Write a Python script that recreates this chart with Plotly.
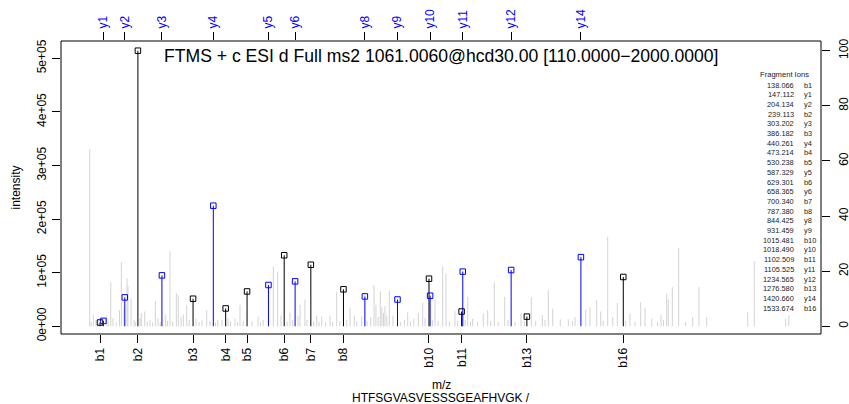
import plotly.graph_objects as go

# ---------------- data ----------------
b_labels = ["b1", "b2", "b3", "b4", "b5", "b6", "b7", "b8", "b10", "b11", "b13", "b16"]
b_mz = [138.066, 239.113, 386.182, 473.214, 530.238, 629.301, 700.340, 787.380,
        1015.481, 1102.509, 1276.580, 1533.674]
b_int = [7000, 514200, 51400, 33300, 65000, 132500, 114800, 69000,
         88800, 27500, 18000, 92000]

y_labels = ["y1", "y2", "y3", "y4", "y5", "y6", "y8", "y9", "y10", "y11", "y12", "y14"]
y_mz = [147.112, 204.134, 303.202, 440.261, 587.329, 658.365, 844.425, 931.459,
        1018.490, 1105.525, 1234.565, 1420.660]
y_int = [10000, 53900, 95000, 225000, 77000, 83800, 55700, 50000,
         57000, 102000, 105000, 129000]

gray_mz = [110.6, 114, 120.2, 127.4, 133, 156, 160, 166.6, 172.7, 181, 190, 194.9, 202, 210.1,
           212.5, 220.7, 228.7, 233, 244.7, 248.2, 257.3, 264, 271.4, 278, 285.6, 292.7, 299,
           313.3, 318, 324.7, 332, 341.6, 346.9, 354.1, 360.2, 369.3, 376, 394.1, 402, 410,
           422.6, 431.4, 446, 452, 463.4, 479.4, 486, 498, 505, 511.4, 520, 543.5, 559.5, 566,
           573, 600.3, 612, 620.8, 637, 644.8, 652, 666.1, 671.5, 684.5, 690, 708, 716, 722,
           729.3, 740, 751.5, 758, 769.3, 778, 796, 804.8, 816.3, 823, 836, 850, 860, 868.8,
           874, 880, 885.6, 890, 894, 898, 903, 909.6, 919.5, 940, 950, 958.7, 966, 975, 987,
           998.7, 1004.8, 1025, 1031.5, 1040, 1052, 1060.9, 1070, 1084.8, 1092, 1112, 1118.7,
           1126, 1132, 1145, 1160.3, 1172, 1180, 1189.7, 1200, 1217.4, 1226, 1245, 1260.9,
           1270, 1288.4, 1300, 1317.8, 1325, 1333.7, 1345.5, 1365.7, 1387, 1398, 1405, 1433.4,
           1444.9, 1462.8, 1473.5, 1480, 1492.1, 1505.5, 1517.8, 1540, 1551.6, 1565, 1580.1,
           1591.6, 1609.4, 1625, 1634.3, 1641, 1649.4, 1653.7, 1664.4, 1681.4, 1700, 1718.8,
           1735.6, 1756.1, 1865.4, 1883, 1966.8, 1975]
gray_int = [331000, 8000, 22000, 12000, 6000, 20000, 9000, 82000, 15000, 7000, 30000, 120000, 35000, 89000,
            75000, 52000, 12000, 8000, 15000, 25000, 28000, 9000, 12000, 7000, 47000, 15000, 8000,
            22000, 10000, 140000, 9000, 62000, 58000, 18000, 22000, 39000, 12000, 14000, 8000, 11000,
            30000, 10000, 7000, 12000, 12000, 15000, 9000, 14000, 8000, 40000, 10000, 10000, 18000, 8000,
            12000, 111000, 102000, 20000, 9000, 25000, 12000, 20000, 40000, 50000, 12000, 9000, 20000, 8000,
            18000, 7000, 20000, 9000, 64000, 10000, 12000, 35000, 20000, 9000, 18000, 10000, 17000, 77000,
            40000, 18000, 65000, 35000, 25000, 38000, 20000, 67000, 20000, 8000, 12000, 26000, 9000, 14000, 25000,
            44000, 15000, 12000, 50000, 10000, 112000, 98500, 9000, 28000, 10000, 12000, 55000,
            9000, 14000, 8000, 24000, 30000, 10000, 82000, 9000, 55000, 12000, 8000, 25000,
            10000, 54000, 10000, 21000, 12000, 67000, 33000, 13000, 13000, 10000, 17000, 31000,
            35500, 48600, 28000, 10000, 167000, 17000, 43600, 10000, 24000, 9000, 45000,
            34000, 14000, 8000, 22000, 12000, 61000, 50000, 73000, 146500, 9000, 17000,
            73000, 17000, 26000, 121600, 14000, 20000]

left_tickvals = [0, 100000, 200000, 300000, 400000, 500000]
left_ticktext = ["0e+00", "1e+05", "2e+05", "3e+05", "4e+05", "5e+05"]
right_ticks = [0, 20, 40, 60, 80, 100]

title_text = "FTMS + c ESI d Full ms2 1061.0060@hcd30.00 [110.0000\u22122000.0000]"
peptide = "HTFSGVASVESSSGEAFHVGK /"

# ---------------- layout constants ----------------
W, H = 849, 404
ML, MR, MT, MB = 61, 28, 41, 70
PW, PH = W - ML - MR, H - MT - MB
FONT = "Liberation Sans"
XR = [34, 2061]
YR = [-14400, 532300]
max_int = max(b_int + y_int + gray_int)
Y2R = [YR[0] / max_int * 100, YR[1] / max_int * 100]


def px2paper_x(px):
    return (px - ML) / PW


def px2paper_y(py):
    return (MT + PH - py) / PH


def stems(xs, ys):
    lx, ly = [], []
    for a, b in zip(xs, ys):
        lx += [a, a, None]
        ly += [0, b, None]
    return lx, ly


fig = go.Figure()

gx, gy = stems(gray_mz, gray_int)
fig.add_trace(go.Scatter(x=gx, y=gy, mode="lines", line=dict(color="#d3d3d3", width=1),
                         hoverinfo="skip", showlegend=False))
bx, by = stems(b_mz, b_int)
fig.add_trace(go.Scatter(x=bx, y=by, mode="lines", line=dict(color="black", width=1),
                         hoverinfo="skip", showlegend=False))
yx, yy = stems(y_mz, y_int)
fig.add_trace(go.Scatter(x=yx, y=yy, mode="lines", line=dict(color="#0000ff", width=1),
                         hoverinfo="skip", showlegend=False))
fig.add_trace(go.Scatter(x=b_mz, y=b_int, mode="markers",
                         marker=dict(symbol="square-open", size=5.5, color="black",
                                     line=dict(width=1, color="black")),
                         showlegend=False))
fig.add_trace(go.Scatter(x=y_mz, y=y_int, mode="markers", xaxis="x2",
                         marker=dict(symbol="square-open", size=5.5, color="#0000ff",
                                     line=dict(width=1, color="#0000ff")),
                         showlegend=False))
fig.add_trace(go.Scatter(x=[], y=[], xaxis="x2", yaxis="y2", showlegend=False))

axis_common = dict(showgrid=False, zeroline=False, showline=False, ticks="outside",
                   ticklen=8, tickwidth=1, tickcolor="black", automargin=False)

fig.update_layout(
    width=W, height=H,
    margin=dict(l=ML, r=MR, t=MT, b=MB, pad=0, autoexpand=False),
    paper_bgcolor="white", plot_bgcolor="white",
    font=dict(family=FONT, size=12, color="black"),
    showlegend=False,
    xaxis=dict(range=XR, tickvals=b_mz, ticktext=b_labels, tickangle=-90,
               tickfont=dict(size=12, color="black", family=FONT), ticklabelstandoff=0,
               **axis_common),
    xaxis2=dict(range=XR, overlaying="x", side="top", tickvals=y_mz, ticktext=y_labels,
                tickangle=-90, tickfont=dict(size=12, color="#0000ff", family=FONT),
                ticklabelstandoff=1, **axis_common),
    yaxis=dict(range=YR, tickvals=left_tickvals, ticktext=left_ticktext, tickangle=-90,
               tickfont=dict(size=12, color="black", family=FONT), ticklabelstandoff=1,
               **axis_common),
    yaxis2=dict(range=Y2R, overlaying="y", side="right", tickvals=right_ticks,
                tickangle=-90, tickfont=dict(size=12, color="black", family=FONT),
                ticklabelstandoff=4, **axis_common),
)

# plot box
fig.add_shape(type="rect", xref="paper", yref="paper", x0=0, x1=1, y0=0, y1=1,
              line=dict(color="black", width=1), fillcolor="rgba(0,0,0,0)", layer="above")

ann = []
ann.append(dict(text=title_text, xref="paper", yref="paper", x=0.5, y=1, xanchor="center",
                yanchor="middle", yshift=-14.5, showarrow=False,
                font=dict(size=17.6, family=FONT, color="black")))
ann.append(dict(text="intensity", xref="paper", yref="paper", x=0, y=0.5, xshift=-46,
                textangle=-90, xanchor="center", yanchor="middle", showarrow=False,
                font=dict(size=12, family=FONT)))
ann.append(dict(text="m/z", xref="paper", yref="paper", x=0.5, y=0, yshift=-51,
                xanchor="center", yanchor="middle", showarrow=False, font=dict(size=12, family=FONT)))
ann.append(dict(text=peptide, xref="paper", yref="paper", x=0.5, y=0, yshift=-64,
                xanchor="center", yanchor="middle", showarrow=False, font=dict(size=12, family=FONT)))

# fragment ion list
frag = sorted(list(zip(b_mz, b_labels)) + list(zip(y_mz, y_labels)))
ann.append(dict(text="Fragment Ions", xref="paper", yref="paper", x=px2paper_x(784),
                y=px2paper_y(75), xanchor="center", yanchor="middle", showarrow=False,
                font=dict(size=7.6, family=FONT, color="#222")))
for i, (mz, lab) in enumerate(frag):
    py = 85 + i * 9.7
    ann.append(dict(text=f"{mz:.3f}", xref="paper", yref="paper", x=px2paper_x(795.5),
                    y=px2paper_y(py), xanchor="right", yanchor="middle", showarrow=False,
                    font=dict(size=7.4, family=FONT, color="#222")))
    ann.append(dict(text=lab, xref="paper", yref="paper", x=px2paper_x(801.5),
                    y=px2paper_y(py), xanchor="left", yanchor="middle", showarrow=False,
                    font=dict(size=7.4, family=FONT, color="#222")))
fig.update_layout(annotations=ann)

fig.write_html("out.html", config={"displayModeBar": False},
               post_script="document.body.style.margin='0';document.body.style.padding='0';")
